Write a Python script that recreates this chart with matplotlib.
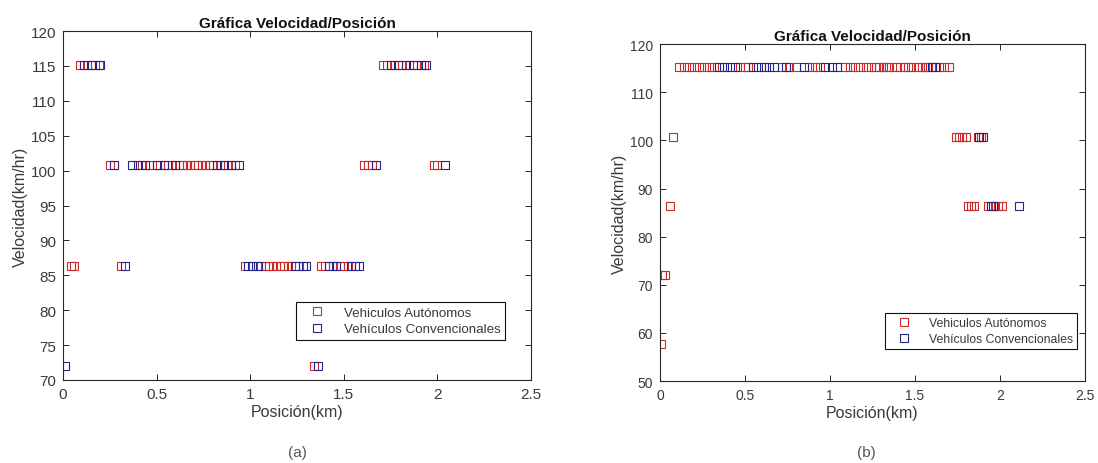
import matplotlib
matplotlib.use("Agg")
from matplotlib import pyplot as plt

plt.rcParams['font.family'] = ['Liberation Sans', 'DejaVu Sans']

# --- (a) positions (km) per speed level (km/h)
a_auto = {
    115.2: [0.09, 0.13, 0.17, 0.19, 1.71, 1.73, 1.77, 1.81, 1.85, 1.89, 1.93],
    100.8: [0.25, 0.42, 0.46, 0.52, 0.56, 0.58, 0.62, 0.64, 0.66, 0.68, 0.70,
            0.72, 0.74, 0.76, 0.78, 0.80, 0.84, 0.88, 0.92,
            1.61, 1.63, 1.65, 1.98, 2.00],
    86.4: [0.04, 0.06, 0.31, 0.97, 1.06, 1.08, 1.10, 1.12, 1.14, 1.16, 1.18,
           1.20, 1.22, 1.26, 1.38, 1.40, 1.44, 1.48, 1.50, 1.52],
    72.0: [1.34],
}
a_conv = {
    115.2: [0.11, 0.15, 0.20, 1.75, 1.79, 1.83, 1.87, 1.91, 1.94],
    100.8: [0.27, 0.37, 0.40, 0.44, 0.50, 0.54, 0.60, 0.82, 0.86, 0.90, 0.94,
            1.67, 2.04],
    86.4: [0.33, 0.99, 1.01, 1.04, 1.24, 1.28, 1.30, 1.42, 1.46, 1.54, 1.56, 1.58],
    72.0: [0.01, 1.36],
}

# --- (b)
b_auto = {
    115.2: [0.11, 0.14, 0.17, 0.20, 0.23, 0.26, 0.29, 0.32, 0.47, 0.50, 0.52,
            0.72, 0.76, 0.80, 0.88, 0.91, 0.94, 1.09, 1.12, 1.15, 1.18, 1.21,
            1.24, 1.27, 1.29, 1.31, 1.33, 1.35, 1.39, 1.41, 1.44, 1.46, 1.48,
            1.52, 1.54, 1.56, 1.58, 1.64, 1.67, 1.70],
    100.8: [0.08, 1.74, 1.76, 1.78, 1.80, 1.87, 1.89],
    86.4: [0.06, 1.81, 1.83, 1.85, 1.93, 1.97, 1.99, 2.01],
    72.0: [0.01, 0.03],
    57.6: [0.005],
}
b_conv = {
    115.2: [0.35, 0.38, 0.41, 0.44, 0.55, 0.58, 0.61, 0.64, 0.67, 0.74, 0.85,
            0.97, 1.01, 1.04, 1.60, 1.62],
    100.8: [1.88, 1.90],
    86.4: [1.95, 1.96, 2.11],
}

a_yticks = [70, 75, 80, 85, 90, 95, 100, 105, 110, 115, 120]
b_yticks = [50, 60, 70, 80, 90, 100, 110, 120]
xticks = [0, 0.5, 1, 1.5, 2, 2.5]
xtick_labels = ['0', '0.5', '1', '1.5', '2', '2.5']

RED = '#cc2a2a'
BLUE = '#23238c'
AX = '#262626'
TXT = '#3a3a3a'


def flat(d):
    xs, ys = [], []
    for y, row in d.items():
        xs += row
        ys += [y] * len(row)
    return xs, ys


def draw(ax, auto, conv, ylim, yticks, tick_fs, leg_anchor, leg_fs):
    xa, ya = flat(auto)
    xc, yc = flat(conv)
    ax.plot(xa, ya, 's', ms=5.5, mfc='none', mec=RED, mew=0.8,
            label='Vehiculos Autónomos')
    ax.plot(xc, yc, 's', ms=5.5, mfc='none', mec=BLUE, mew=0.8,
            label='Vehículos Convencionales')
    ax.set_xlim(0, 2.5)
    ax.set_ylim(*ylim)
    ax.set_xticks(xticks)
    ax.set_xticklabels(xtick_labels)
    ax.set_yticks(yticks)
    ax.tick_params(direction='in', top=True, right=True, length=4,
                   colors=AX, labelcolor=TXT, labelsize=tick_fs, width=0.7,
                   pad=5)
    for s in ax.spines.values():
        s.set_color(AX)
        s.set_linewidth(0.8)
    ax.set_title('Gráfica Velocidad/Posición', fontweight='bold',
                 fontsize=11, color='#111111', pad=3)
    ax.set_xlabel('Posición(km)', fontsize=11.5, color=TXT, labelpad=2)
    ax.set_ylabel('Velocidad(km/hr)', fontsize=11.5, color=TXT, labelpad=2)
    leg = ax.legend(loc='upper right', bbox_to_anchor=leg_anchor,
                    bbox_transform=fig.transFigure, fontsize=leg_fs,
                    fancybox=False, framealpha=1, edgecolor='#111111',
                    borderpad=0.35, handlelength=2.4, handletextpad=0.8,
                    labelspacing=0.3, borderaxespad=0)
    leg.get_frame().set_linewidth(0.8)
    for t in leg.get_texts():
        t.set_color(TXT)


fig = plt.figure(figsize=(10.98, 4.64), dpi=100)
ax1 = fig.add_axes([0.0574, 0.1789, 0.4262, 0.752])
ax2 = fig.add_axes([0.601, 0.1767, 0.387, 0.726])

draw(ax1, a_auto, a_conv, (70, 120), a_yticks, 11, (0.46, 0.347), 9.6)
draw(ax2, b_auto, b_conv, (50, 120), b_yticks, 10, (0.981, 0.323), 8.8)

fig.text(0.2705, 1 - 453 / 464, '(a)', ha='center', va='center',
         fontsize=11, color='#555555')
fig.text(0.789, 1 - 453 / 464, '(b)', ha='center', va='center',
         fontsize=11, color='#555555')

fig.savefig('out.png', dpi=100)
